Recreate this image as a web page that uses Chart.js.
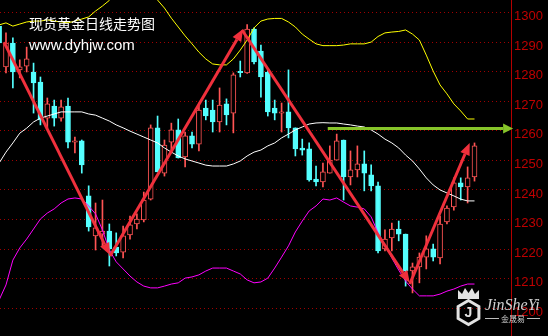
<!DOCTYPE html>
<html><head><meta charset="utf-8">
<script src="https://cdn.jsdelivr.net/npm/chart.js@4.4.1/dist/chart.umd.min.js"></script>
<style>html,body{margin:0;padding:0;background:#000;overflow:hidden}canvas{display:block}</style>
</head><body>
<canvas id="c" width="548" height="336"></canvas>
<script>
// ---- data (daily gold candles, Bollinger bands) ----
const opens  = [1295.4,1281.6,1289.7,1280.6,1281.9,1279.9,1276.5,1264.3,1268.4,1264.3,1268.4,1256.2,1256.6,1238.0,1224.5,1225.1,1226.1,1220.7,1219.0,1224.8,1228.5,1229.9,1236.9,1261.0,1245.7,1256.2,1260.3,1251.2,1258.3,1255.5,1267.7,1267.0,1263.0,1269.1,1266.0,1280.1,1279.6,1294.4,1287.0,1279.9,1267.7,1266.0,1266.4,1261.0,1254.2,1253.9,1243.7,1242.7,1245.7,1250.1,1256.9,1244.4,1246.8,1248.8,1245.1,1241.4,1220.1,1223.8,1226.8,1225.1,1212.6,1214.0,1217.3,1220.1,1217.0,1229.2,1234.3,1242.4,1241.0,1244.4];
const highs  = [1296.8,1293.1,1291.4,1284.0,1288.3,1282.9,1278.2,1271.1,1270.4,1270.4,1271.1,1257.9,1256.9,1241.4,1235.6,1236.6,1228.5,1225.5,1227.8,1231.2,1231.9,1239.3,1262.0,1265.0,1256.9,1262.6,1264.0,1259.6,1259.6,1269.4,1270.4,1270.4,1274.5,1270.8,1279.6,1283.6,1295.94,1294.8,1289.0,1280.6,1270.4,1269.4,1280.6,1261.0,1257.2,1255.9,1248.1,1249.1,1254.9,1258.9,1256.9,1253.2,1254.9,1253.2,1248.5,1242.7,1226.5,1228.8,1229.5,1225.1,1215.3,1218.7,1224.5,1221.7,1231.2,1234.6,1244.1,1244.1,1247.8,1255.9];
const lows   = [1288.0,1279.6,1274.5,1277.9,1279.9,1266.0,1262.0,1261.0,1261.6,1263.3,1254.2,1252.5,1245.7,1226.1,1219.7,1221.1,1214.3,1217.7,1217.0,1223.4,1226.8,1229.2,1236.6,1246.1,1244.7,1253.5,1250.8,1247.8,1254.2,1253.2,1263.7,1259.6,1259.6,1262.0,1259.3,1278.2,1279.4,1282.6,1271.4,1265.0,1263.7,1259.6,1257.6,1251.5,1251.8,1243.0,1241.4,1241.0,1245.7,1250.1,1236.6,1241.7,1244.4,1239.7,1239.7,1218.7,1219.4,1219.4,1222.8,1207.5,1205.2,1208.6,1213.3,1216.0,1215.0,1228.5,1233.2,1236.6,1235.6,1243.0];
const closes = [1289.7,1289.7,1279.9,1281.6,1284.3,1276.2,1263.7,1269.1,1264.3,1268.1,1256.2,1256.6,1248.5,1227.5,1227.2,1226.1,1220.1,1218.7,1224.5,1228.2,1230.2,1236.6,1261.0,1246.1,1255.2,1260.3,1250.8,1258.3,1255.5,1267.0,1265.0,1263.0,1268.7,1265.4,1278.9,1279.7,1294.4,1283.3,1278.2,1266.4,1266.0,1266.4,1261.0,1253.9,1253.5,1243.4,1242.7,1246.1,1250.1,1256.6,1244.4,1246.8,1248.8,1245.7,1241.4,1219.4,1223.4,1226.8,1225.1,1212.6,1214.0,1217.3,1220.1,1217.3,1228.5,1233.9,1242.4,1241.0,1244.1,1254.9];
const upperBand = [1295.8,1296.5,1295.4,1296.1,1296.8,1297.1,1297.1,1297.5,1297.1,1296.8,1296.5,1297.1,1297.8,1298.5,1300.5,1302.2,1304.1,1308.3,1308.6,1309.0,1309.0,1308.3,1306.9,1304.2,1301.5,1298.1,1295.1,1292.1,1289.4,1286.6,1284.3,1282.6,1282.3,1282.3,1284.3,1287.3,1290.7,1294.8,1297.1,1297.8,1298.0,1298.0,1296.8,1295.1,1292.7,1291.0,1289.4,1288.8,1288.8,1288.8,1289.0,1289.4,1289.4,1289.4,1290.0,1291.9,1293.1,1293.4,1293.6,1294.1,1292.7,1290.7,1285.6,1280.2,1275.5,1272.5,1269.1,1266.7,1264.0,1264.0];
const midBand = [1249.1,1252.8,1255.9,1259.2,1260.9,1263.0,1264.3,1265.0,1265.7,1266.4,1266.4,1266.4,1266.4,1265.7,1265.3,1264.3,1263.3,1262.0,1261.0,1259.9,1258.9,1257.9,1256.9,1255.9,1254.2,1252.8,1251.5,1250.5,1249.8,1249.1,1248.4,1248.1,1248.1,1248.1,1248.8,1249.8,1251.5,1252.8,1253.5,1254.9,1255.9,1257.6,1258.9,1260.3,1261.3,1262.3,1262.65,1262.75,1262.65,1262.65,1262.3,1262.0,1261.6,1261.3,1260.3,1258.9,1257.2,1255.9,1254.2,1251.8,1249.8,1247.1,1244.1,1241.7,1240.0,1239.0,1238.0,1236.9,1236.3,1236.3];
const lowerBand = [1202.8,1207.9,1216.3,1220.4,1223.4,1226.8,1230.2,1232.2,1233.6,1235.6,1236.95,1237.3,1236.95,1234.6,1231.9,1226.5,1219.7,1215.7,1213.3,1210.9,1208.9,1207.5,1206.9,1206.9,1207.5,1208.2,1208.6,1210.2,1210.6,1211.3,1212.6,1213.6,1213.6,1213.6,1212.6,1211.6,1209.6,1208.6,1208.9,1210.2,1213.6,1217.3,1221.1,1225.8,1229.5,1232.9,1234.6,1236.95,1236.6,1237.3,1235.9,1234.6,1234.2,1233.6,1230.9,1225.5,1221.4,1217.0,1212.9,1209.2,1206.5,1204.2,1204.2,1204.2,1204.8,1205.8,1206.5,1207.5,1208.2,1208.2];
const yTicks = [1200,1210,1220,1230,1240,1250,1260,1270,1280,1290,1300];
// trend arrows in data space: [startIndex, startPrice, endIndex, endPrice]
const trendArrows = [[0.71,1290.0,16.1,1218.0],[16.1,1217.7,35.4,1294.4],[35.26,1294.1,59.6,1208.6],[59.6,1208.2,68.3,1255.9]];
const targetStartIndex = 47.7, targetEndIndex = 74.6, targetPrice = 1260.8;
const titleText = '现货黄金日线走势图';
const siteText = 'www.dyhjw.com';

// ---- styling ----
const UP = '#ff5454', DOWN = '#54ffff';
const idx = opens.map((_, i) => i);
const isUp = idx.map(i => closes[i] >= opens[i]);

const overlay = {
  id: 'overlay',
  afterDatasetsDraw(chart) {
    const {ctx, scales: {x, y}} = chart;
    ctx.save();
    function arrow(x1, y1, x2, y2, color, w, hl, hw) {
      const a = Math.atan2(y2 - y1, x2 - x1);
      const bx = x2 - hl * Math.cos(a), by = y2 - hl * Math.sin(a);
      ctx.strokeStyle = color; ctx.lineWidth = w; ctx.lineCap = 'butt';
      ctx.beginPath(); ctx.moveTo(x1, y1); ctx.lineTo(bx, by); ctx.stroke();
      ctx.fillStyle = color; ctx.beginPath();
      ctx.moveTo(x2, y2);
      ctx.lineTo(bx + hw * Math.sin(a), by - hw * Math.cos(a));
      ctx.lineTo(bx - hw * Math.sin(a), by + hw * Math.cos(a));
      ctx.closePath(); ctx.fill();
    }
    trendArrows.forEach(t => {
      arrow(x.getPixelForValue(t[0]), y.getPixelForValue(t[1]), x.getPixelForValue(t[2]), y.getPixelForValue(t[3]), '#f0303c', 3, 12, 5);
    });
    const gy = y.getPixelForValue(targetPrice);
    arrow(x.getPixelForValue(targetStartIndex), gy, x.getPixelForValue(targetEndIndex), gy, '#86c42a', 3, 10, 5);

    // peak label
    let pk = 0; highs.forEach((h, i) => { if (h > highs[pk]) pk = i; });
    const px = x.getPixelForValue(pk), py = y.getPixelForValue(highs[pk]);
    ctx.strokeStyle = '#a0a0a0'; ctx.lineWidth = 1;
    ctx.beginPath(); ctx.moveTo(px - 29, py + 5.5); ctx.lineTo(px - 1, py + 0.5); ctx.stroke();
    ctx.fillStyle = '#b8c4d4'; ctx.font = '12px "Liberation Sans", Arial, sans-serif';
    ctx.textAlign = 'right'; ctx.textBaseline = 'alphabetic';
    ctx.fillText(highs[pk].toFixed(2), px - 30, py + 17.5);

    // titles
    ctx.textAlign = 'left';
    ctx.fillStyle = '#ffffff';
    ctx.font = '14px "Noto Sans CJK SC", sans-serif';
    ctx.textBaseline = 'middle';
    ctx.fillText(titleText, 29, 24);
    ctx.font = '15px "Liberation Sans", Arial, sans-serif';
    ctx.textBaseline = 'alphabetic';
    ctx.fillText(siteText, 29, 49.5);

    // watermark logo
    ctx.fillStyle = '#e2e2e2'; ctx.strokeStyle = '#e2e2e2';
    ctx.beginPath();
    [[458,299],[458,290],[462,294],[465,288],[468.5,293],[472,288],[475,294],[479,290],[479,299]].forEach((p, i) => i ? ctx.lineTo(p[0], p[1]) : ctx.moveTo(p[0], p[1]));
    ctx.closePath(); ctx.fill();
    ctx.lineWidth = 3; ctx.beginPath();
    const cx = 468.5, cy = 312.5, r = 12;
    for (let k = 0; k < 6; k++) { const a = -Math.PI / 2 + k * Math.PI / 3; const X = cx + r * Math.cos(a), Y = cy + r * Math.sin(a); k ? ctx.lineTo(X, Y) : ctx.moveTo(X, Y); }
    ctx.closePath(); ctx.stroke();
    ctx.font = 'bold 14px "Liberation Sans", Arial, sans-serif'; ctx.textAlign = 'center'; ctx.textBaseline = 'middle';
    ctx.fillText('J', cx, cy + 1);
    ctx.font = 'italic 16px "Liberation Serif", serif'; ctx.textAlign = 'left'; ctx.textBaseline = 'alphabetic';
    ctx.fillStyle = '#cfcfcf';
    ctx.fillText('JinSheYi', 485, 310);
    ctx.lineWidth = 1; ctx.strokeStyle = '#bdbdbd';
    ctx.beginPath(); ctx.moveTo(485, 318.5); ctx.lineTo(499, 318.5); ctx.moveTo(527, 318.5); ctx.lineTo(540, 318.5); ctx.stroke();
    ctx.font = '8px "Noto Sans CJK SC", sans-serif'; ctx.textAlign = 'center'; ctx.textBaseline = 'middle';
    ctx.fillText('金晟易', 513, 318.5);
    ctx.restore();
  }
};

new Chart(document.getElementById('c'), {
  type: 'bar',
  data: {
    datasets: [
      { type: 'line', data: idx.map(i => ({x: i, y: upperBand[i]})), borderColor: '#ffff00', borderWidth: 1, pointRadius: 0, tension: 0, order: 0 },
      { type: 'line', data: idx.map(i => ({x: i, y: midBand[i]})), borderColor: '#ffffff', borderWidth: 1, pointRadius: 0, tension: 0, order: 0 },
      { type: 'line', data: idx.map(i => ({x: i, y: lowerBand[i]})), borderColor: '#ff00ff', borderWidth: 1, pointRadius: 0, tension: 0, order: 0 },
      { data: idx.map(i => ({x: i, y: [opens[i], closes[i]]})), backgroundColor: idx.map(i => isUp[i] ? '#000000' : DOWN),
        borderColor: idx.map(i => isUp[i] ? UP : DOWN), borderWidth: 1, borderSkipped: false, barThickness: 5, minBarLength: 1, grouped: false, order: 1 },
      { data: idx.map(i => ({x: i, y: [lows[i], highs[i]]})), backgroundColor: idx.map(i => isUp[i] ? UP : DOWN),
        borderWidth: 0, barThickness: 1, grouped: false, order: 2 }
    ]
  },
  options: {
    responsive: false, animation: false, devicePixelRatio: 1,
    layout: { padding: 0 },
    plugins: { legend: { display: false }, tooltip: { enabled: false } },
    scales: {
      x: { type: 'linear', min: 0.1306, max: 74.296, display: false, offset: false },
      y: {
        position: 'right', min: 1190.63, max: 1304.23,
        afterBuildTicks: s => { s.ticks = yTicks.map(v => ({value: v})); },
        afterFit: s => { s.width = 37; s.paddingTop = 0; s.paddingBottom = 0; },
        ticks: { color: '#c00000', font: { family: '"Liberation Sans", Arial, sans-serif', size: 13 }, padding: 3, labelOffset: 4, callback: v => String(v) },
        grid: { color: '#a00000', lineWidth: 1, drawTicks: false },
        border: { display: true, color: '#b40000', width: 1, dash: [1, 3] }
      }
    }
  },
  plugins: [overlay]
});
</script>
</body></html>
